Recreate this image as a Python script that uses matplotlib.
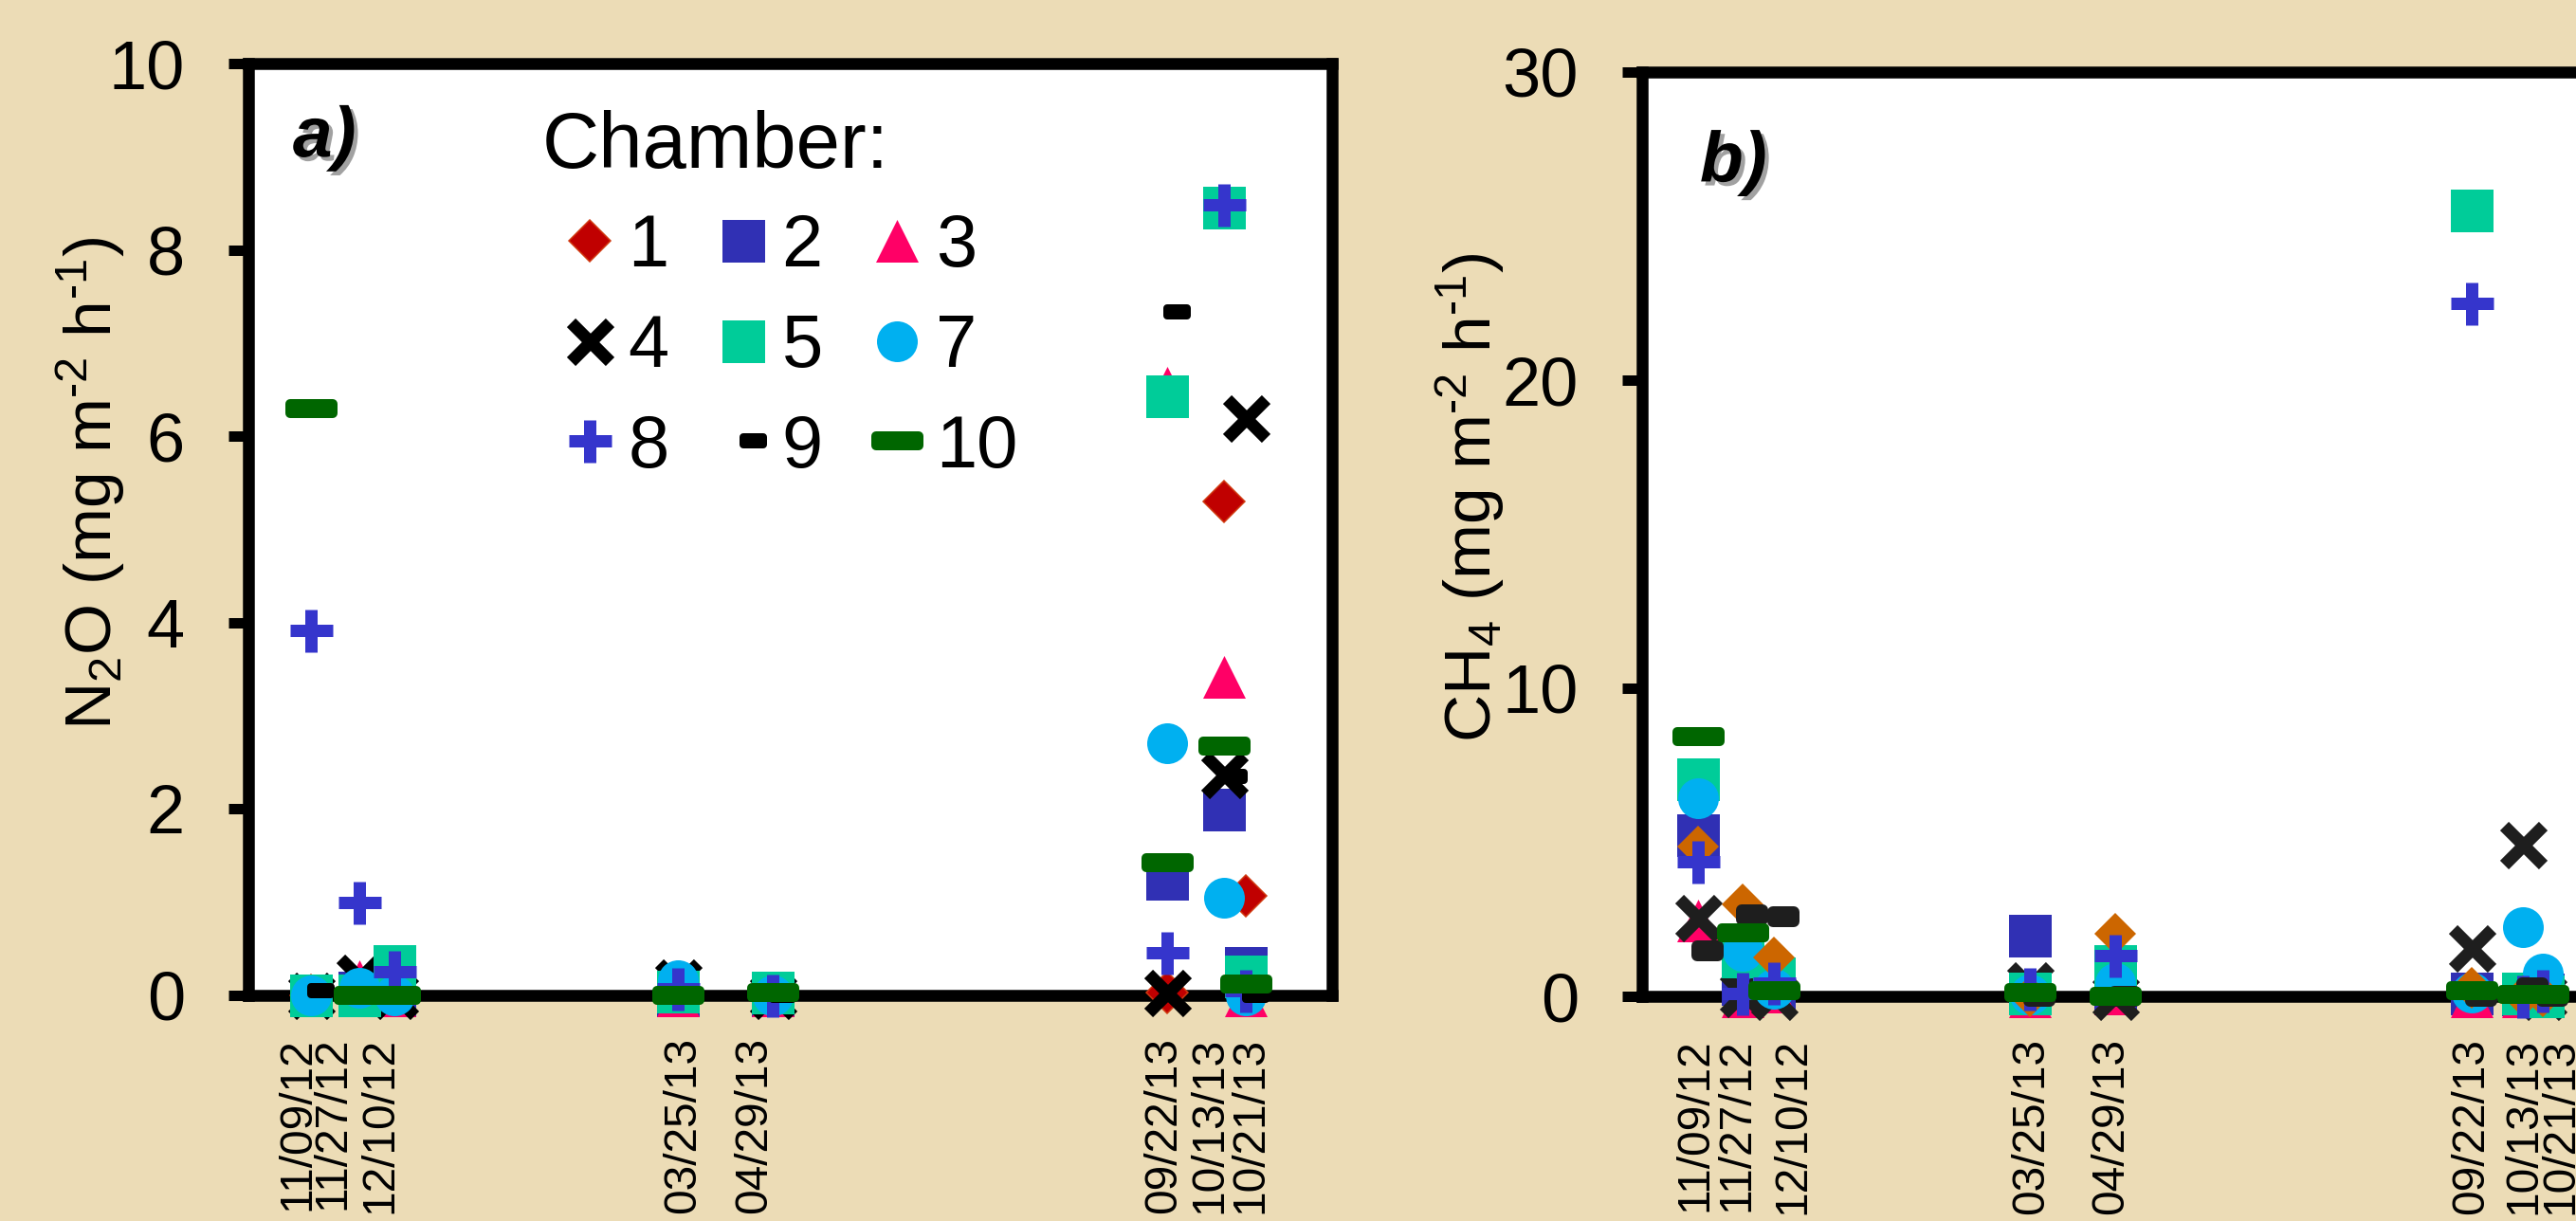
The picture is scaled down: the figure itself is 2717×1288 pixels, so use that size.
import datetime as dt
import matplotlib
matplotlib.use("Agg")
import matplotlib.pyplot as plt
import matplotlib.patheffects as pe
from matplotlib.markers import MarkerStyle
from matplotlib.path import Path
from matplotlib.transforms import ScaledTranslation

plt.rcParams['font.family'] = 'Liberation Sans'
plt.rcParams['mathtext.fontset'] = 'custom'
plt.rcParams['mathtext.rm'] = 'Liberation Sans'
plt.rcParams['mathtext.it'] = 'Liberation Sans:italic'
plt.rcParams['mathtext.bf'] = 'Liberation Sans:bold'

# sampling dates
date_labels = ['11/09/12', '11/27/12', '12/10/12', '03/25/13', '04/29/13',
               '09/22/13', '10/13/13', '10/21/13']
chambers = ['1', '2', '3', '4', '5', '7', '8', '9', '10']

# N2O flux (mg m-2 h-1), one list per chamber
n2o_c1 = [0.0, 0.0, 0.0, 0.0, 0.0, 0.03, 5.3, 1.07]
n2o_c2 = [0.0, 0.03, 0.0, 0.0, 0.0, 1.25, 1.99, 0.3]
n2o_c3 = [0.0, 0.15, 0.0, 0.0, 0.0, 6.52, 3.42, 0.0]
n2o_c4 = [0.0, 0.19, 0.0, 0.14, 0.0, 0.03, 2.37, 6.2]
n2o_c5 = [0.0, 0.0, 0.32, 0.04, 0.03, 6.43, 8.45, 0.2]
n2o_c7 = [0.0, 0.08, 0.0, 0.16, 0.0, 2.71, 1.05, 0.0]
n2o_c8 = [3.92, 1.0, 0.25, 0.07, 0.0, 0.46, 8.48, 0.05]
n2o_c9 = [0.05, 0.0, 0.0, 0.0, 0.0, 7.33, 2.35, 0.0]
n2o_c10 = [6.3, 0.0, 0.0, 0.0, 0.03, 1.42, 2.68, 0.12]

# CH4 flux (mg m-2 h-1)
ch4_c1 = [4.87, 3.0, 1.26, 0.0, 2.03, 0.28, 0.0, 0.0]
ch4_c2 = [5.22, 0.4, 0.24, 1.97, 0.1, 0.1, 0.05, 0.05]
ch4_c3 = [2.47, 0.0, 0.15, 0.0, 0.1, 0.0, 0.0, 0.0]
ch4_c4 = [2.55, 0.1, 0.0, 0.37, 0.0, 1.57, 4.92, 0.0]
ch4_c5 = [7.04, 1.3, 0.6, 0.1, 0.99, 25.5, 0.1, 0.0]
ch4_c7 = [6.43, 1.47, 0.25, 0.05, 0.43, 0.12, 2.25, 0.74]
ch4_c8 = [4.37, 0.1, 0.43, 0.25, 1.31, 22.5, 0.0, 0.18]
ch4_c9 = [1.47, 2.65, 2.6, 0.0, 0.0, 0.0, 0.28, 0.0]
ch4_c10 = [8.43, 2.06, 0.18, 0.12, 0.0, 0.18, 0.05, 0.05]

n2o = [n2o_c1, n2o_c2, n2o_c3, n2o_c4, n2o_c5, n2o_c7, n2o_c8, n2o_c9, n2o_c10]
ch4 = [ch4_c1, ch4_c2, ch4_c3, ch4_c4, ch4_c5, ch4_c7, ch4_c8, ch4_c9, ch4_c10]
dates = [dt.datetime.strptime(s, '%m/%d/%y') for s in date_labels]

W, H, DPI = 2717, 1288, 100
BG = '#ECDCB6'
PT = 72 / DPI  # px -> pt


def pill(x0, x1, h):
    # rounded bar marker (corners come from the round join of the edge)
    verts = [(x0, -h), (x1, -h), (x1, h), (x0, h), (x0, -h)]
    codes = [Path.MOVETO, Path.LINETO, Path.LINETO, Path.LINETO, Path.CLOSEPOLY]
    return MarkerStyle(Path(verts, codes), joinstyle='round')


tri = MarkerStyle([(-1, -1), (1, -1), (0, 1)])


def styles(panel):
    dark = 'black' if panel == 'a' else '#1E1E1E'
    if panel == 'a':
        dia = dict(marker='D', ms=31.5 * PT, mfc='#C00000', mec='#D03A10', mew=1.5 * PT)
        nine = dict(marker=pill(0.5, 21.5, 4.5), ms=43 * PT, mfc=dark, mec=dark, mew=8 * PT)
    else:
        dia = dict(marker='D', ms=31.5 * PT, mfc='#CC6600', mec='#CC6600', mew=0)
        nine = dict(marker=pill(-1.5, 21.5, 5), ms=43 * PT, mfc=dark, mec=dark, mew=12 * PT)
    return [
        dia,
        dict(marker='s', ms=45 * PT, mfc='#3030B4', mec='#3030B4', mew=0),
        dict(marker=tri, ms=45 * PT, mfc='#FF0066', mec='#FF0066', mew=0),
        dict(marker='x', ms=41 * PT, mec=dark, mew=13 * PT),
        dict(marker='s', ms=45 * PT, mfc='#00CC99', mec='#00CC99', mew=0),
        dict(marker='o', ms=43 * PT, mfc='#00B0F0', mec='#00B0F0', mew=0),
        dict(marker='+', ms=45 * PT, mec='#3535CC', mew=13 * PT),
        nine,
        dict(marker=pill(-1, 1, 0.244), ms=45 * PT, mfc='#006600', mec='#006600', mew=10 * PT),
    ]


fig = plt.figure(figsize=(W / DPI, H / DPI), dpi=DPI, facecolor=BG)
ax_a = fig.add_axes([262 / W, (H - 1050) / H, 1143 / W, 983 / H])
ax_b = fig.add_axes([1732 / W, (H - 1051) / H, 1032 / W, 975 / H])

xlim = (dates[0] - dt.timedelta(days=23), dates[0] + dt.timedelta(days=378))

panels = [
    (ax_a, n2o, 'a', (0, 10), range(0, 11, 2),
     'N$_\\mathregular{2}$O (mg m$^{\\text{-2}}$ h$^{\\text{-1}}$)', -0.146, 0.549,
     [-14, -28, -15, 5, -19, -4, -15, 5], (0.041, 0.955)),
    (ax_b, ch4, 'b', (0, 30), range(0, 31, 10),
     'CH$_\\mathregular{4}$ (mg m$^{\\text{-2}}$ h$^{\\text{-1}}$)', -0.176, 0.54,
     [-3, -6, 20, 1, -5, 0, 1, 19], (0.059, 0.937)),
]

for ax, series, tag, ylim, yticks, ylabel, lx, ly, lab_shift, tag_xy in panels:
    ax.set_facecolor('white')
    handles = []
    for i, (vals, st) in enumerate(zip(series, styles(tag))):
        z = 3 + i
        if tag == 'b' and i == 0:
            z = 8.5  # chamber 1 sits above 2-7 in panel b
        h, = ax.plot(dates, vals, linestyle='none', clip_on=False, zorder=z, **st)
        handles.append(h)

    ax.set_xlim(*xlim)
    ax.set_ylim(*ylim)
    ax.set_yticks(list(yticks))
    ax.set_xticks(dates, date_labels, rotation=90)
    ax.tick_params(axis='y', direction='out', length=21 * PT, width=11 * PT,
                   pad=46 * PT, labelsize=52)
    ax.tick_params(axis='x', length=0, pad=44 * PT, labelsize=34.5)
    # nudge crowded date labels apart
    for lab, dx in zip(ax.get_xticklabels(), lab_shift):
        lab.set_transform(lab.get_transform() + ScaledTranslation(dx / DPI, 0, fig.dpi_scale_trans))
    for sp in ax.spines.values():
        sp.set_linewidth(12.5 * PT)
        sp.set_zorder(2.5)
    ax.set_ylabel(ylabel, fontsize=50, va='center')
    ax.yaxis.set_label_coords(lx, ly)

    ax.text(*tag_xy, tag + ')', transform=ax.transAxes, ha='left', va='top',
            fontsize=54, fontweight='bold', fontstyle='italic', zorder=20,
            path_effects=[pe.withSimplePatchShadow(offset=(3, -3), shadow_rgbFace='#444444', alpha=0.5)])

    if tag == 'a':
        ax.text(0.271, 0.888, 'Chamber:', transform=ax.transAxes, ha='left',
                va='baseline', fontsize=60, zorder=20)
        order = [0, 3, 6, 1, 4, 7, 2, 5, 8]
        leg = ax.legend([handles[k] for k in order], [chambers[k] for k in order],
                        ncol=3, loc='upper left', bbox_to_anchor=(0.295, 0.840),
                        frameon=False, fontsize=56, borderpad=0, borderaxespad=0,
                        handlelength=0.58, handletextpad=0.23, columnspacing=0.72,
                        labelspacing=0.42, numpoints=1)
        leg.set_zorder(20)

fig.savefig('out.png', dpi=DPI, facecolor=BG)
